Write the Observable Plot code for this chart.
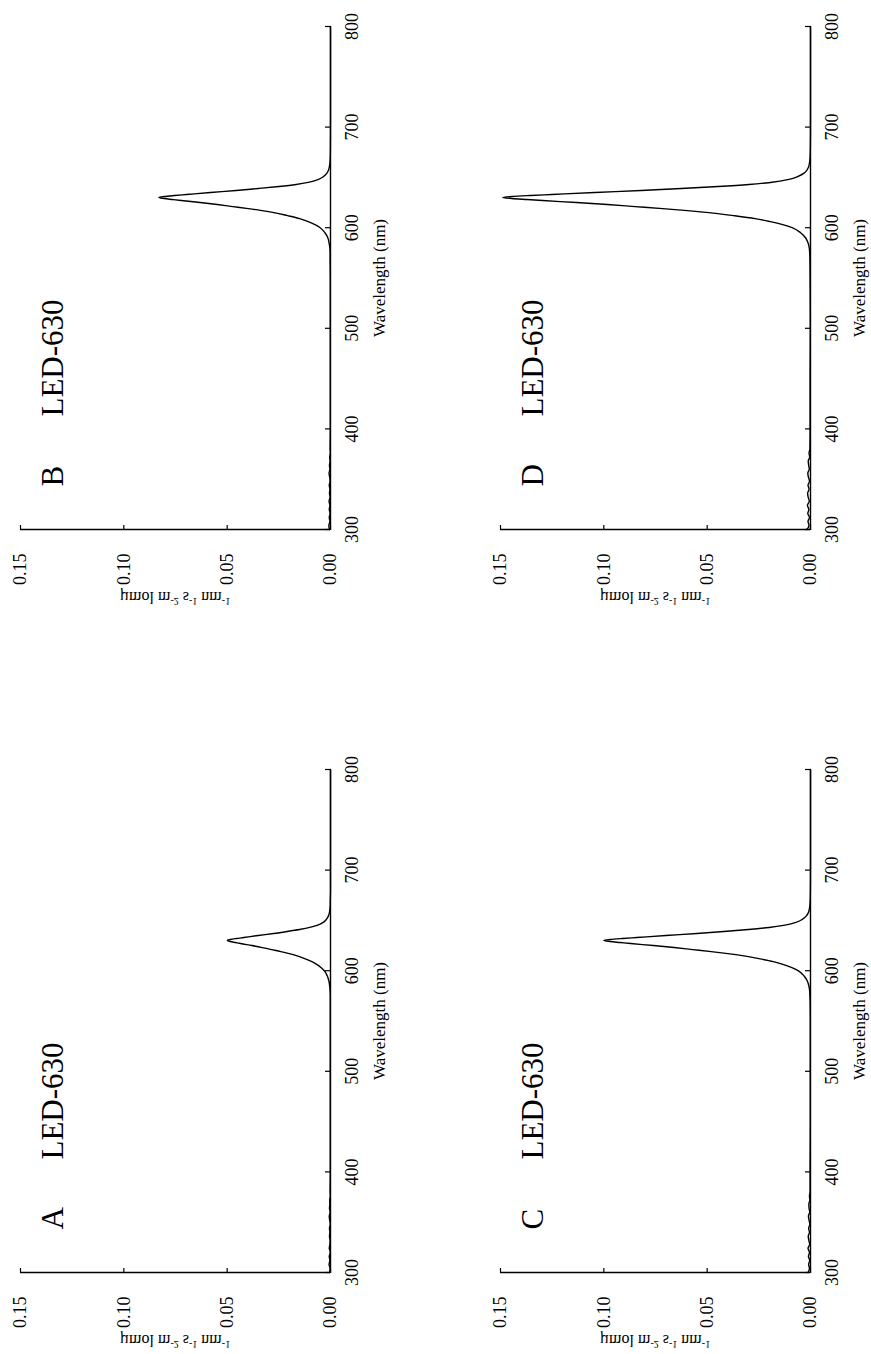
<!DOCTYPE html>
<html><head><meta charset="utf-8">
<script src="https://cdn.jsdelivr.net/npm/d3@7"></script>
<script src="https://cdn.jsdelivr.net/npm/@observablehq/plot@0.6"></script>
<style>
html,body{margin:0;padding:0;background:#fff;}
body{width:871px;height:1354px;position:relative;overflow:hidden;font-family:"Liberation Serif","Times New Roman",serif;color:#000;}
.panel{position:absolute;left:0;top:0;transform-origin:0 0;}
.panel, .panel text{font-family:"Liberation Serif","Times New Roman",serif !important;}
.ylab{position:absolute;font-size:16px;white-space:nowrap;line-height:1;font-family:"Liberation Serif","Times New Roman",serif;}
.ylab sup{font-size:10px;vertical-align:6px;}
</style></head><body>
<script>
// ---- data ----
const panelLetters = ["A", "B", "C", "D"];
const lampName = "LED-630";
const xTitle = "Wavelength (nm)";
const wavelengthTicks = [300, 400, 500, 600, 700, 800];
const irradianceTicks = [0, 0.05, 0.10, 0.15];

const wavelengths = [300,304,308,312,316,320,324,328,332,336,340,344,348,352,356,360,364,368,372,376,380,
  400,450,500,550,570,575,
  580,585,590,595,600,603,606,609,612,615,617,619,621,623,625,627,628,629,630,631,632,633,635,637,639,641,643,645,648,651,654,657,660,665,670,680,700,750,800];

const spectrumA = [0.0005,0.0002,0.0007,0.0003,0.0006,0.0001,0.0006,0.0003,0.0002,0.0005,0.0003,0.0005,0.0001,0.0004,0.0006,0.0002,0.0005,0.0003,0.0004,0.0001,0.0002,
  0.0001,0.0001,0.0001,0.0001,0.0001,0.0001,
  0.0002,0.0004,0.0008,0.0016,0.003,0.0045,0.0065,0.009,0.0125,0.0165,0.020,0.024,0.0285,0.033,0.038,0.0435,0.046,0.0485,0.050,0.0485,0.0455,0.042,0.035,0.0275,0.021,0.015,0.010,0.0065,0.0035,0.002,0.0011,0.0006,0.00035,0.00015,0.0001,0,0,0,0];

const spectrumB = [0.0005,0.0008,0.0003,0.0006,0.0002,0.0006,0.0003,0.0007,0.0002,0.0005,0.0003,0.0006,0.0002,0.0004,0.0007,0.0003,0.0005,0.0002,0.0004,0.0001,0.0002,
  0.0001,0.0001,0.0001,0.0001,0.0002,0.0002,
  0.0003,0.0007,0.0013,0.0027,0.005,0.0075,0.0108,0.0149,0.0208,0.0274,0.0332,0.0398,0.0473,0.0548,0.0631,0.0722,0.0764,0.0805,0.083,0.0805,0.0755,0.0697,0.0581,0.0457,0.0349,0.0249,0.0166,0.0108,0.0058,0.0033,0.0018,0.001,0.0006,0.00025,0.00012,0.00004,0,0,0];

const spectrumC = [0.0012,0.0005,0.0009,0.0004,0.0010,0.0005,0.0012,0.0004,0.0008,0.0011,0.0005,0.0009,0.0003,0.0007,0.0010,0.0004,0.0007,0.0008,0.0003,0.0005,0.0002,
  0.0002,0.0001,0.0001,0.0001,0.0002,0.0003,
  0.0004,0.0008,0.0016,0.0032,0.006,0.009,0.013,0.018,0.025,0.033,0.040,0.048,0.057,0.066,0.076,0.087,0.092,0.097,0.100,0.097,0.091,0.084,0.070,0.055,0.042,0.030,0.020,0.013,0.007,0.004,0.0022,0.0012,0.0007,0.0003,0.00015,0.00005,0,0,0];

const spectrumD = [0.0018,0.0007,0.0012,0.0005,0.0013,0.0008,0.0015,0.0006,0.0011,0.0014,0.0007,0.0012,0.0005,0.0010,0.0013,0.0006,0.0009,0.0011,0.0004,0.0007,0.0003,
  0.0002,0.0002,0.0001,0.0002,0.0003,0.0004,
  0.0006,0.0012,0.0024,0.0048,0.0089,0.0134,0.0194,0.0268,0.0373,0.0492,0.0596,0.0715,0.0849,0.0983,0.1132,0.1296,0.1371,0.1445,0.149,0.1445,0.1356,0.1252,0.1043,0.0820,0.0626,0.0447,0.0298,0.0194,0.0104,0.006,0.0033,0.0018,0.001,0.00045,0.0002,0.00007,0,0,0];

const spectra = [spectrumA, spectrumB, spectrumC, spectrumD];

// ---- layout (page coordinates; each chart is drawn landscape and rotated -90deg) ----
const FONT = '"Liberation Serif","Times New Roman",serif';
const W = 583, H = 390, ML = 60, MR = 20, MT = 20, MB = 60;
const placements = [
  {tx: 0, ty: 1333}, {tx: 0, ty: 590}, {tx: 480, ty: 1333}, {tx: 480, ty: 590}
];
const ylabPos = [
  {x: 175, y: 1340}, {x: 175, y: 597}, {x: 655, y: 1340}, {x: 655, y: 597}
];

spectra.forEach((values, i) => {
  const data = wavelengths.map((w, k) => ({w, v: values[k]}));
  const chart = Plot.plot({
    width: W, height: H,
    marginLeft: ML, marginRight: MR, marginTop: MT, marginBottom: MB,
    style: {fontFamily: FONT, fontSize: "18px", color: "#000", background: "transparent", overflow: "visible"},
    x: {domain: [300, 800], label: null},
    y: {domain: [0, 0.15], label: null},
    marks: [
      Plot.line(data, {x: "w", y: "v", stroke: "#000", strokeWidth: 1.4, curve: "monotone-x"}),
      Plot.ruleY([0], {stroke: "#000", strokeWidth: 1.4}),
      Plot.ruleX([300], {stroke: "#000", strokeWidth: 1.4}),
      Plot.axisX({ticks: wavelengthTicks, tickSize: -5, tickPadding: 20, tickFormat: d => String(d),
        fontSize: 18, label: null, strokeWidth: 1.2}),
      Plot.axisY({ticks: irradianceTicks, tickSize: -5, tickPadding: 29, tickFormat: d3.format(".2f"),
        fontSize: 18, label: null, strokeWidth: 1.2}),
      Plot.text([xTitle], {frameAnchor: "bottom", dy: 49, lineAnchor: "middle", fontSize: 17}),
      Plot.text([panelLetters[i]], {frameAnchor: "top-left", dx: 43, dy: 42, lineAnchor: "bottom", textAnchor: "start", fontSize: 31}),
      Plot.text([lampName], {frameAnchor: "top-left", dx: 113, dy: 42, lineAnchor: "bottom", textAnchor: "start", fontSize: 31})
    ]
  });
  chart.classList.add("panel");
  const p = placements[i];
  chart.style.transform = `translate(${p.tx}px, ${p.ty}px) rotate(-90deg)`;
  document.body.appendChild(chart);

  const lab = document.createElement("div");
  lab.className = "ylab";
  lab.innerHTML = "µmol m<sup>-2</sup> s<sup>-1</sup> nm<sup>-1</sup>";
  lab.style.left = ylabPos[i].x + "px";
  lab.style.top = ylabPos[i].y + "px";
  lab.style.transform = "translate(-50%,-50%) scaleY(-1)";
  document.body.appendChild(lab);
});
</script>
</body></html>
